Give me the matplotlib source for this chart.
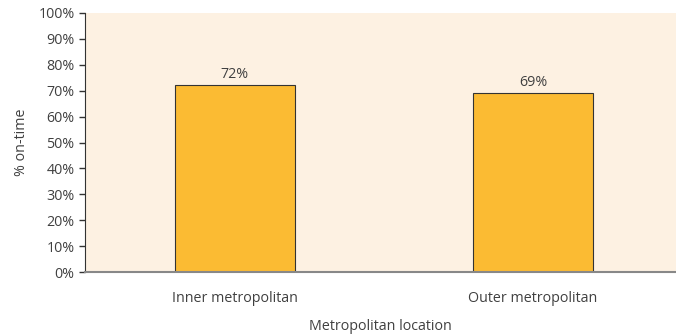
import matplotlib
matplotlib.use("Agg")
import matplotlib.pyplot as plt
from matplotlib.ticker import PercentFormatter

categories = ["Inner metropolitan", "Outer metropolitan"]
on_time = [72.2, 69.1]
labels = ["72%", "69%"]

BG, BAR, INK = "#fdf1e2", "#fbbb33", "#404040"
FS = 10.3
plt.rcParams["font.family"] = ["Open Sans", "DejaVu Sans"]

fig = plt.figure(figsize=(6.76, 3.36), dpi=100)
ax = fig.add_axes([85 / 676, 1 - 272 / 336, 1 - 85 / 676, 259 / 336])
ax.set_facecolor(BG)

x = range(len(categories))
bars = ax.bar(x, on_time, width=0.4, color=BAR, edgecolor="#333333", linewidth=0.8, zorder=2)
for b, lab in zip(bars, labels):
    ax.annotate(lab, (b.get_x() + b.get_width() / 2, b.get_height()), textcoords="offset points",
                xytext=(0, 2), ha="center", va="bottom", fontsize=FS, color=INK)

ax.set_xlim(-0.503, 1.48)
ax.set_ylim(0, 100)
ax.set_yticks(range(0, 101, 10))
ax.yaxis.set_major_formatter(PercentFormatter(decimals=0))
ax.set_xticks(list(x))
ax.set_xticklabels(categories)
ax.tick_params(axis="x", length=0, pad=14, labelsize=FS, colors=INK)
ax.tick_params(axis="y", length=4, width=1, labelsize=FS, colors=INK, color="#333333")
for s in ("top", "right"):
    ax.spines[s].set_visible(False)
ax.spines["left"].set_color("#333333")
ax.spines["bottom"].set_color("#888888")
ax.spines["bottom"].set_linewidth(1.5)

ax.set_xlabel("Metropolitan location", fontsize=FS, color=INK, labelpad=9)
ax.set_ylabel("% on-time", fontsize=FS, color=INK, labelpad=7)

fig.savefig("out.png", dpi=100, facecolor="white")
